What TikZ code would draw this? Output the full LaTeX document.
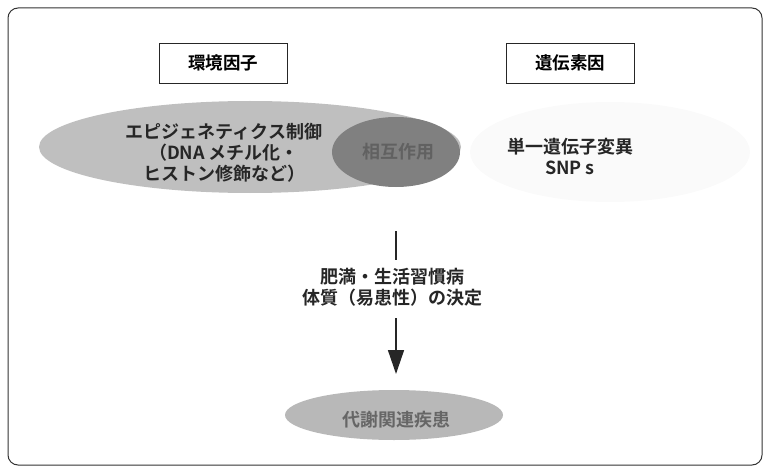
\documentclass[tikz,border=0pt]{standalone}
\usepackage{fontspec}
\newfontfamily\jp{Noto Sans CJK JP Bold}
\usetikzlibrary{shapes.geometric,arrows.meta}
\begin{document}
\begin{tikzpicture}[x=1pt,y=-1pt,
  lbox/.style={draw=black!85,line width=0.9pt,minimum width=128pt,minimum height=40pt,font=\jp\fontsize{17.5}{20}\selectfont},
  blob/.style={ellipse,draw=none},
  txt/.style={font=\jp\fontsize{18}{21}\selectfont,align=center,text=black!85}]
\useasboundingbox (0,0) rectangle (770,473);
\draw[black!80,line width=1pt,rounded corners=10pt] (8,8) rectangle (762,465);
\node[lbox] (env) at (223,63) {環境因子};
\node[lbox] (gen) at (570,63) {遺伝素因};
\node[blob,fill=black!2,minimum width=280pt,minimum height=100pt] (gell) at (610,152) {};
\node[blob,fill=black!25,minimum width=422pt,minimum height=92pt] (eell) at (250,147) {};
\node[blob,fill=black!50,minimum width=128pt,minimum height=70pt] (inter) at (396,152) {};
\node[txt] (epi) at (224,153) {エピジェネティクス制御\\（DNA メチル化・\\ヒストン修飾など）};
\node[txt,text=black!62] (intert) at (398,152) {相互作用};
\node[txt] (snp) at (570,156) {単一遺伝子変異\\SNP s};
\coordinate (top) at (396,231);
\node[txt,fill=white,inner sep=1pt] (mid) at (392,287) {肥満・生活習慣病\\体質（易患性）の決定};
\node[blob,fill=black!28,minimum width=218pt,minimum height=50pt] (dis) at (394,415) {};
\node[txt,text=black!60] (dist) at (396,420) {代謝関連疾患};
\draw[black!85,line width=1.5pt] (top) -- (396,260);
\draw[black!85,line width=1.5pt,-{Triangle[width=16pt,length=24pt]}] (396,318) -- (396,374);
\end{tikzpicture}
\end{document}
